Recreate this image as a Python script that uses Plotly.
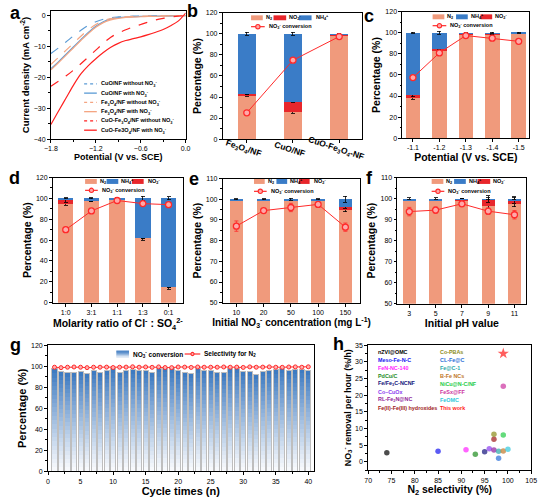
import plotly.graph_objects as go

W, H = 546, 497
FONT = "Liberation Sans, Arial, sans-serif"


def fx(p):
    return p / W


def fy(p):
    return 1 - p / H


# ---------------- data ----------------
# panel a (LSV)
a_potential = [-1.8, -1.7, -1.6, -1.5, -1.4, -1.3, -1.2, -1.1, -1.0, -0.9, -0.8, -0.7, -0.6, -0.5, -0.4, -0.3, -0.2, -0.1, 0.0]
a_cuo_without = [-12.3, -10.5, -8.6, -6.6, -4.8, -3.2, -2.0, -1.2, -0.7, -0.45, -0.3, -0.2, -0.15, -0.1, -0.1, -0.05, -0.05, 0, 0]
a_cuo_with = [-17.2, -15.0, -12.6, -10.2, -7.8, -5.5, -3.5, -2.0, -1.1, -0.7, -0.5, -0.4, -0.3, -0.25, -0.2, -0.15, -0.1, -0.05, 0]
a_fe_without = [-15.8, -13.6, -11.3, -9.0, -6.7, -4.6, -2.9, -1.7, -1.0, -0.6, -0.4, -0.3, -0.2, -0.15, -0.1, -0.1, -0.05, 0, 0]
a_fe_with = [-17.6, -15.3, -12.9, -10.5, -8.1, -5.8, -3.8, -2.3, -1.4, -0.9, -0.6, -0.5, -0.4, -0.3, -0.25, -0.2, -0.1, -0.05, 0]
a_cf_without = [-22.9, -21.3, -19.6, -17.7, -15.6, -13.4, -11.2, -9.0, -7.0, -5.7, -4.6, -3.7, -2.9, -2.1, -1.4, -0.9, -0.5, -0.2, 0]
a_cf_with = [-35.3, -31.0, -26.8, -22.6, -18.9, -16.2, -14.0, -12.0, -10.3, -9.0, -8.1, -7.5, -6.9, -6.2, -5.4, -4.5, -3.3, -1.8, 0.8]

# panel b
b_cats = ["Fe3O4/NF", "CuO/NF", "CuO-Fe3O4-NF"]
b_labels = ["Fe<sub>3</sub>O<sub>4</sub>/NF", "CuO/NF", "CuO-Fe<sub>3</sub>O<sub>4</sub>-NF"]
b_n2 = [42, 26, 99]
b_no2 = [0.5, 9.5, 0.3]
b_nh4 = [57.5, 64.5, 0.7]
b_conv = [25, 75, 97.5]
b_n2_err = [1.5, 1.5, 0.5]
b_nh4_err = [1.5, 1.5, 0.5]

# panel c
c_cats = ["-1.1", "-1.2", "-1.3", "-1.4", "-1.5"]
c_n2 = [38, 83.5, 99, 99, 99.5]
c_no2 = [2.5, 1.5, 0.2, 0.1, 0.5]
c_nh4 = [59.5, 15, 0.8, 0.9, 0.2]
c_conv = [57.5, 81, 97.5, 95, 92]

# panel d
d_cats = ["1:0", "3:1", "1:1", "1:3", "0:1"]
d_n2 = [95, 98, 99.5, 62, 15]
d_no2 = [3, 0.5, 0.1, 0, 0]
d_nh4 = [2, 1.5, 0.4, 38, 85]
d_conv = [70, 88, 98, 95, 94]

# panel e
e_cats = ["10", "20", "50", "100", "150"]
e_n2 = [99.5, 99.5, 99.6, 99.5, 95.5]
e_no2 = [0, 0, 0, 0.1, 0.5]
e_nh4 = [0.5, 0.5, 0.4, 0.4, 4]
e_conv = [87, 94.5, 96, 97.5, 86.5]

# panel f
f_cats = ["3", "5", "7", "9", "11"]
f_n2 = [99.3, 99.2, 99.5, 96.5, 97.5]
f_no2 = [0, 0, 0.2, 3.3, 1.8]
f_nh4 = [0.7, 0.8, 0.3, 0.2, 0.7]
f_conv = [93.8, 94.5, 97.5, 94, 92.3]

# panel g
g_cycles = list(range(1, 41))
g_conv = [97.3, 95, 94, 94, 95, 93, 96, 93.5, 96, 97.3,
          94, 96.3, 96.6, 96, 96.3, 94, 98.2, 98.2, 97.3, 95.4,
          94, 93, 97.3, 96.3, 96.3, 93.7, 93.7, 97.9, 97.9, 94.7,
          94.7, 92, 95, 96.3, 96.5, 98, 96, 96.5, 97.2, 96]
g_sel = [99.0, 98.6, 99.0, 99.2, 99.0, 98.6, 99.0, 99.0, 99.1, 98.7,
         99.0, 99.1, 99.4, 99.0, 99.2, 98.9, 99.3, 98.7, 98.6, 99.2,
         99.1, 98.8, 99.2, 99.0, 99.0, 99.0, 99.2, 99.0, 99.1, 98.8,
         99.3, 99.0, 99.1, 99.3, 99.0, 98.9, 99.2, 99.3, 99.0, 99.4]

# panel h
h_names = ["nZVI@OMC", "Meso-Fe-N-C", "FeN-NC-140", "PdCu/C", "Fe/Fe<sub>3</sub>C-NCNF", "Co\u2013CuOx",
           "RL-Fe<sub>2</sub>N@NC", "Fe(II)-Fe(III) hydroxides",
           "Co-PBAs", "CL-Fe@C", "Fe@C-1", "B-Fe NCs", "NiCu@N-C/NF", "FeSx@FF", "FeOMC", "This work"]
h_sel = [74, 85, 91, 93, 95, 96, 97, 97, 97, 98, 98, 99, 99, 99, 100, 99]
h_rate = [2.8, 3.2, 3.7, 2.3, 3.1, 4.0, 3.6, 6.8, 8.3, 1.1, 3.2, 3.3, 8.1, 22.7, 3.8, 32.5]
h_colors = ["#000000", "#1515F0", "#FF22FF", "#1E8C1E", "#12127A", "#8A3CF0", "#8E1E9A", "#9E1A1A",
            "#8C8C1A", "#2A6FD8", "#2AA8A8", "#C0782A", "#22CC44", "#CC33A0", "#30C8DC", "#FF1A1A"]

# ---------------- styling ----------------
C_N2 = "#F09A7C"
C_NH4 = "#3A7CC7"
C_NO2 = "#E8262B"
C_CONV = "#FF2A2A"

fig = go.Figure()

# panel a
a_series = [
    ("CuO/NF without NO3", a_cuo_without, "#5B9BD5", "dash"),
    ("CuO/NF with NO3", a_cuo_with, "#5B9BD5", "solid"),
    ("Fe3O4/NF without NO3", a_fe_without, "#F4A582", "dash"),
    ("Fe3O4/NF with NO3", a_fe_with, "#F4A582", "solid"),
    ("CuO-Fe3O4/NF without NO3", a_cf_without, "#FF2020", "dash"),
    ("CuO-Fe3O4/NF with NO3", a_cf_with, "#FF2020", "solid"),
]
for name, ys, col, dash in a_series:
    fig.add_trace(go.Scatter(x=a_potential, y=ys, mode="lines", name=name,
                             line=dict(color=col, width=1.2, dash=dash, shape="spline"),
                             xaxis="x", yaxis="y", showlegend=False))


def bar_panel(k, cats, n2, no2, nh4, conv, n2_err=None, no2_err=None, nh4_err=None, conv_err=None, width=0.55):
    xa, ya = f"x{k}", f"y{k}"
    def eb(arr, n):
        if arr is None:
            arr = [0.6] * n
        return dict(type="data", array=arr, color="black", thickness=0.8, width=2)
    n = len(cats)
    fig.add_trace(go.Bar(x=cats, y=n2, marker=dict(color=C_N2, line=dict(width=0)), width=width,
                         error_y=eb(n2_err, n), xaxis=xa, yaxis=ya, showlegend=False, name="N2"))
    fig.add_trace(go.Bar(x=cats, y=no2, marker=dict(color=C_NO2, line=dict(width=0)), width=width,
                         error_y=eb(no2_err if no2_err else [0.3] * n, n), xaxis=xa, yaxis=ya,
                         showlegend=False, name="NO2-"))
    fig.add_trace(go.Bar(x=cats, y=nh4, marker=dict(color=C_NH4, line=dict(width=0)), width=width,
                         error_y=eb(nh4_err, n), xaxis=xa, yaxis=ya, showlegend=False, name="NH4+"))
    fig.add_trace(go.Scatter(x=cats, y=conv, mode="lines+markers", xaxis=xa, yaxis=ya, showlegend=False,
                             name="NO3- conversion",
                             line=dict(color=C_CONV, width=1),
                             marker=dict(size=6, color="#FFA8A8", line=dict(color=C_CONV, width=1.3)),
                             error_y=dict(type="data", array=conv_err if conv_err else [1.2] * n,
                                          color=C_CONV, thickness=0.8, width=2)))


bar_panel(2, b_cats, b_n2, b_no2, b_nh4, b_conv, n2_err=b_n2_err, nh4_err=b_nh4_err, width=0.4)
bar_panel(3, c_cats, c_n2, c_no2, c_nh4, c_conv, n2_err=[1, 1, 0.3, 0.3, 0.3], no2_err=[1, 1, 0.2, 0.2, 0.2],
          nh4_err=[0.5, 1.5, 0.5, 0.5, 0.3])
bar_panel(4, d_cats, d_n2, d_no2, d_nh4, d_conv, n2_err=[1.5, 1, 0.3, 2, 2], no2_err=[1.5, 1, 0.2, 0, 0],
          nh4_err=[0.5, 0.5, 0.5, 2, 1.5], width=0.6)
bar_panel(5, e_cats, e_n2, e_no2, e_nh4, e_conv, n2_err=[0.2, 0.2, 0.2, 0.2, 1.5], no2_err=[0, 0, 0, 0.3, 0.3],
          nh4_err=[0.2, 0.2, 0.5, 0.3, 1.5], conv_err=[2.5, 1, 2, 1, 2], width=0.5)
bar_panel(6, f_cats, f_n2, f_no2, f_nh4, f_conv, n2_err=[0.2, 0.3, 0.2, 1.5, 1.5], no2_err=[0, 0, 0.2, 1.5, 1.5],
          nh4_err=[0.3, 0.4, 0.2, 0.5, 0.5], conv_err=[2, 1.5, 1, 1.5, 2], width=0.5)

# panel g : gradient bars built from stacked slices of each conversion value
N_SEG = 24
top_rgb = (58, 120, 192)
bot_rgb = (250, 251, 253)
G_WIDTH = 0.78
for i in range(N_SEG):
    t = ((i + 0.5) / N_SEG) ** 1.1
    rgb = tuple(int(round(bot_rgb[j] + (top_rgb[j] - bot_rgb[j]) * t)) for j in range(3))
    fig.add_trace(go.Bar(x=g_cycles, y=[v / N_SEG for v in g_conv], width=G_WIDTH,
                         marker=dict(color="rgb(%d,%d,%d)" % rgb, line=dict(width=0)),
                         xaxis="x7", yaxis="y7", showlegend=False, name="NO3- conversion",
                         hoverinfo="skip"))
# outline of each bar (overlay axis so it is not stacked)
fig.add_trace(go.Bar(x=g_cycles, y=g_conv, width=G_WIDTH,
                     marker=dict(color="rgba(0,0,0,0)", line=dict(color="#BEBEBE", width=1)),
                     xaxis="x7", yaxis="y9", showlegend=False, name="NO3- conversion", hoverinfo="skip"))
fig.add_trace(go.Scatter(x=g_cycles, y=g_sel, mode="lines+markers", xaxis="x7", yaxis="y9", showlegend=False,
                         name="Selectivity for N2", line=dict(color=C_CONV, width=1),
                         marker=dict(size=4, color="#FFB0B0", line=dict(color=C_CONV, width=1))))

# panel h
h_symbols = ["circle"] * (len(h_sel) - 1) + ["star"]
h_sizes = [5.5] * (len(h_sel) - 1) + [8.5]
fig.add_trace(go.Scatter(x=h_sel, y=h_rate, mode="markers", xaxis="x8", yaxis="y8", showlegend=False,
                         text=h_names, marker=dict(color=h_colors, symbol=h_symbols, size=h_sizes,
                                                   line=dict(width=0))))

# ---------------- axes ----------------
def axis(domain, **kw):
    d = dict(domain=domain, showline=True, linecolor="black", linewidth=0.8, mirror=True,
             ticks="outside", ticklen=3, tickwidth=0.8, tickcolor="black",
             tickfont=dict(size=7, family=FONT, color="black"), showgrid=False, zeroline=False)
    d.update(kw)
    return d


def title(text, size=10.5, standoff=2):
    return dict(text=text, font=dict(size=size, family=FONT, color="black", weight="bold"), standoff=standoff)


def xdom(x0, x1):
    return [fx(x0), fx(x1)]


def ydom(top, bottom):
    return [fy(bottom), fy(top)]


minor_lin = dict(ticks="outside", ticklen=1.8, tickwidth=0.7, tickcolor="black")

layout = dict(width=W, height=H, margin=dict(l=0, r=0, t=0, b=0), paper_bgcolor="white", plot_bgcolor="white",
              barmode="stack", showlegend=False, font=dict(family=FONT, color="black"))

layout["xaxis"] = axis(xdom(45, 183), anchor="y", range=[-1.8, 0], tick0=-1.8, dtick=0.6, tickformat=".1f",
                       minor=dict(dtick=0.3, **minor_lin), title=title("Potential (V vs. SCE)", 9))
layout["yaxis"] = axis(ydom(7, 137), anchor="x", range=[-40, 1.5], dtick=10,
                       minor=dict(dtick=5, **minor_lin),
                       title=title("Current density (mA cm<sup>-2</sup>)", 9.5))

pct_title = title("Percentage (%)")
layout["xaxis2"] = axis(xdom(221, 364), anchor="y2", type="category", range=[-0.52, 2.5], showticklabels=False)
layout["yaxis2"] = axis(ydom(9, 137), anchor="x2", range=[0, 120], dtick=20, minor=dict(dtick=10, **minor_lin),
                        title=pct_title)
layout["xaxis3"] = axis(xdom(405, 535), anchor="y3", type="category", range=[-0.4, 4.4],
                        title=title("Potential (V vs. SCE)", 10.5))
layout["yaxis3"] = axis(ydom(8, 136), anchor="x3", range=[0, 120], dtick=20, minor=dict(dtick=10, **minor_lin),
                        title=pct_title)
layout["xaxis4"] = axis(xdom(47, 180), anchor="y4", type="category", range=[-0.5, 4.55],
                        title=title("Molarity ratio of Cl<sup>-</sup> : SO<sub>4</sub><sup>2-</sup>", 10.5))
layout["yaxis4"] = axis(ydom(176, 303), anchor="x4", range=[0, 120], dtick=20, minor=dict(dtick=10, **minor_lin),
                        title=pct_title)
layout["xaxis5"] = axis(xdom(221, 362), anchor="y5", type="category", range=[-0.5, 4.55],
                        title=title("Initial NO<sub>3</sub><sup>-</sup> concentration (mg L<sup>-1</sup>)", 10))
layout["yaxis5"] = axis(ydom(177, 303), anchor="x5", range=[50, 110], dtick=10, minor=dict(dtick=5, **minor_lin),
                        title=pct_title)
layout["xaxis6"] = axis(xdom(400, 532), anchor="y6", type="category", range=[-0.45, 4.45],
                        title=title("Initial pH value", 10.5))
layout["yaxis6"] = axis(ydom(176, 304), anchor="x6", range=[50, 110], dtick=10, minor=dict(dtick=5, **minor_lin),
                        title=pct_title)
layout["xaxis7"] = axis(xdom(42, 314), anchor="y7", range=[0, 40.8], dtick=5, minor=dict(dtick=2.5, **minor_lin),
                        title=title("Cycle times (n)", 11))
layout["yaxis7"] = axis(ydom(346, 474), anchor="x7", range=[0, 120], dtick=20, minor=dict(dtick=10, **minor_lin),
                        title=title("Percentage (%)", 11))
layout["yaxis9"] = dict(overlaying="y7", anchor="x7", range=[0, 120], visible=False, showgrid=False,
                        zeroline=False)
layout["xaxis8"] = axis(xdom(370, 537), anchor="y8", range=[70, 105], dtick=5, minor=dict(dtick=2.5, **minor_lin),
                        title=title("N<sub>2</sub> selectivity (%)", 10.5))
layout["yaxis8"] = axis(ydom(346, 473), anchor="x8", range=[-2.5, 35], dtick=5, minor=dict(dtick=2.5, **minor_lin),
                        title=title("NO<sub>3</sub><sup>-</sup> removal per hour (%/h)", 8.8))

shapes = []
annots = []


def swatch(x0, x1, yc, color, h=5):
    shapes.append(dict(type="rect", xref="paper", yref="paper", x0=fx(x0), x1=fx(x1), y0=fy(yc + h / 2),
                       y1=fy(yc - h / 2), fillcolor=color, line=dict(width=0)))


def ltext(x, yc, text, size=5.5, color="black", bold=True):
    annots.append(dict(xref="paper", yref="paper", x=fx(x), y=fy(yc), text=text, showarrow=False,
                       xanchor="left", yanchor="middle",
                       font=dict(size=size, color=color, family=FONT, weight="bold" if bold else "normal")))


def lline(x0, x1, yc, color, dash="solid", marker=True, r=2.2, fill="#FFA8A8", width=1.2):
    shapes.append(dict(type="line", xref="paper", yref="paper", x0=fx(x0), x1=fx(x1), y0=fy(yc), y1=fy(yc),
                       line=dict(color=color, width=width, dash=dash)))
    if marker:
        xc = (x0 + x1) / 2
        shapes.append(dict(type="circle", xref="paper", yref="paper", x0=fx(xc - r), x1=fx(xc + r),
                           y0=fy(yc + r), y1=fy(yc - r), fillcolor=fill, line=dict(color=color, width=1.1)))


NO3 = "NO<sub>3</sub><sup>-</sup>"
NO2 = "NO<sub>2</sub><sup>-</sup>"
NH4 = "NH<sub>4</sub><sup>+</sup>"
N2 = "N<sub>2</sub>"

# legend a
a_leg_text = ["CuO/NF without " + NO3, "CuO/NF with " + NO3,
              "Fe<sub>3</sub>O<sub>4</sub>/NF without " + NO3, "Fe<sub>3</sub>O<sub>4</sub>/NF with " + NO3,
              "CuO-Fe<sub>3</sub>O<sub>4</sub>/NF without " + NO3, "CuO-Fe3O<sub>4</sub>/NF with " + NO3]
for i, (name, ys, col, dash) in enumerate(a_series):
    yc = 81 + 9.4 * i
    lline(79, 92, yc, col, dash="dot" if dash == "dash" else "solid", marker=False, width=1.3)
    ltext(94, yc, a_leg_text[i], size=5.6)

# legend b
swatch(250, 262, 14, C_N2); ltext(263, 14, N2)
swatch(273, 286, 14, C_NO2); ltext(287, 14, NO2)
swatch(299, 312, 14, C_NH4); ltext(314, 14, NH4)
lline(250, 264, 23, C_CONV); ltext(266, 23, NO3 + " conversion")

# legend c
swatch(436, 448, 13, C_N2); ltext(449, 13, N2)
swatch(460, 472, 13, C_NH4); ltext(473, 13, NH4)
swatch(485, 497, 13, C_NO2); ltext(498, 13, NO2)
lline(436, 450, 22, C_CONV); ltext(452, 22, NO3 + " conversion")

# legend d
swatch(80, 92, 180, C_N2); ltext(93, 180, N2)
swatch(102, 114, 180, C_NH4); ltext(115, 180, NH4)
swatch(128, 140, 180, C_NO2); ltext(142, 180, NO2)
lline(80, 93, 189, C_CONV); ltext(95, 189, NO3 + " conversion")

# legend e
swatch(253, 264, 180, C_N2); ltext(265, 180, N2)
swatch(276, 287, 180, C_NH4); ltext(288, 180, NH4)
swatch(299, 310, 180, C_NO2); ltext(312, 180, NO2)
lline(253, 266, 190, C_CONV); ltext(268, 190, NO3 + " conversion")

# legend f
swatch(435, 447, 180, C_N2); ltext(448, 180, N2)
swatch(458, 470, 180, C_NH4); ltext(471, 180, NH4)
swatch(482, 495, 180, C_NO2); ltext(496, 180, NO2)
lline(435, 448, 190, C_CONV); ltext(450, 190, NO3 + " conversion")

# legend g (gradient swatch)
nsw = 6
for i in range(nsw):
    t = i / (nsw - 1)
    rgb = tuple(int(round(top_rgb[j] + (bot_rgb[j] - top_rgb[j]) * t * 0.8)) for j in range(3))
    y0 = 351.5 + i * 7 / nsw
    shapes.append(dict(type="rect", xref="paper", yref="paper", x0=fx(112), x1=fx(125), y0=fy(y0 + 7 / nsw + 0.2),
                       y1=fy(y0), fillcolor="rgb(%d,%d,%d)" % rgb, line=dict(width=0)))
ltext(127, 355, NO3 + " conversion", size=6.5)
lline(182, 198, 355, C_CONV, r=1.6, fill="#FFB0B0"); ltext(200, 355, "Selectivity for " + N2, size=6.5)

# panel h text labels
for i, name in enumerate(h_names):
    col_x = 378 if i < 8 else 442
    row = i if i < 8 else i - 8
    ltext(col_x, 353 + 8.1 * row, name, size=5.4, color=h_colors[i])

# panel b category labels (slanted)
for cat, lab in zip(b_cats, b_labels):
    annots.append(dict(xref="x2", yref="paper", x=cat, y=fy(147), text=lab, showarrow=False, textangle=18,
                       xanchor="center", yanchor="middle", xshift=-3,
                       font=dict(size=8.5, family=FONT, color="black", weight="bold")))

# panel letters
for letter, (xc, yc) in {"a": (9, 9), "b": (190, 7), "c": (371, 12), "d": (8, 176), "e": (192, 178),
                         "f": (371, 176), "g": (9, 346), "h": (340, 345)}.items():
    annots.append(dict(xref="paper", yref="paper", x=fx(xc), y=fy(yc), text=letter, showarrow=False,
                       xanchor="center", yanchor="middle",
                       font=dict(size=18, family=FONT, color="black", weight="bold")))

layout["shapes"] = shapes
layout["annotations"] = annots
fig.update_layout(**layout)
fig.write_html("out.html")
